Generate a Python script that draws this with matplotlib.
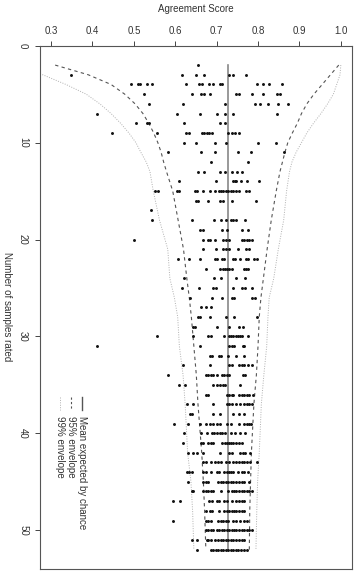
import matplotlib
matplotlib.use("Agg")
import matplotlib.pyplot as plt
from matplotlib.lines import Line2D

plt.rcParams['font.family'] = ['Liberation Sans', 'DejaVu Sans']

# ---- data ----
samples_rated = list(range(2, 53))
agreement_scores = [
    [0.656],
    [0.348, 0.617, 0.649, 0.670, 0.731, 0.739, 0.770],
    [0.493, 0.509, 0.515, 0.531, 0.545, 0.625, 0.657, 0.664, 0.682, 0.692, 0.707, 0.712, 0.798, 0.811, 0.826, 0.859],
    [0.525, 0.641, 0.662, 0.670, 0.684, 0.748, 0.755, 0.785, 0.811, 0.847, 0.853],
    [0.537, 0.618, 0.720, 0.793, 0.805, 0.823, 0.849, 0.872],
    [0.410, 0.604, 0.661, 0.700, 0.720, 0.740, 0.845],
    [0.505, 0.531, 0.537, 0.622, 0.708, 0.720],
    [0.447, 0.555, 0.625, 0.634, 0.664, 0.670, 0.676, 0.682, 0.690, 0.727, 0.736, 0.744, 0.754],
    [0.621, 0.649, 0.696, 0.722, 0.801, 0.843],
    [0.583, 0.662, 0.696, 0.751, 0.782, 0.862],
    [0.686, 0.777],
    [0.656, 0.670, 0.708, 0.720, 0.736, 0.750, 0.762],
    [0.608, 0.699, 0.739, 0.744, 0.748, 0.758, 0.773, 0.803],
    [0.551, 0.559, 0.604, 0.609, 0.648, 0.652, 0.666, 0.684, 0.696, 0.706, 0.711, 0.716, 0.722, 0.728, 0.734, 0.740, 0.748, 0.754, 0.770, 0.778],
    [0.649, 0.656, 0.678, 0.708, 0.716, 0.736, 0.795],
    [0.541],
    [0.545, 0.641, 0.694, 0.711, 0.722, 0.735, 0.740, 0.746, 0.769],
    [0.660, 0.666, 0.714, 0.724, 0.761, 0.777],
    [0.500, 0.666, 0.680, 0.684, 0.696, 0.715, 0.722, 0.730, 0.761, 0.766, 0.773, 0.779, 0.786],
    [0.666, 0.698, 0.716, 0.722, 0.730, 0.752, 0.770, 0.778],
    [0.606, 0.633, 0.660, 0.696, 0.700, 0.712, 0.719, 0.739, 0.744, 0.757, 0.770, 0.775, 0.791, 0.797],
    [0.674, 0.708, 0.715, 0.720, 0.726, 0.731, 0.736, 0.765, 0.770, 0.777],
    [0.622, 0.694, 0.711, 0.747, 0.769],
    [0.617, 0.657, 0.692, 0.698, 0.740, 0.762, 0.769, 0.785],
    [0.635, 0.690, 0.714, 0.736, 0.742, 0.785, 0.793],
    [0.662, 0.674, 0.686],
    [0.655, 0.661, 0.683, 0.722, 0.741, 0.797],
    [0.642, 0.648, 0.700, 0.729, 0.754, 0.764],
    [0.557, 0.644, 0.680, 0.686, 0.719, 0.730, 0.735, 0.740, 0.746, 0.751, 0.757, 0.762, 0.777],
    [0.410, 0.660, 0.730, 0.736, 0.742, 0.763, 0.767],
    [0.684, 0.690, 0.706, 0.711, 0.728, 0.748, 0.766],
    [0.618, 0.684, 0.731, 0.738, 0.755, 0.761, 0.766, 0.777, 0.786],
    [0.583, 0.674, 0.680, 0.686, 0.692, 0.700, 0.714, 0.719, 0.724, 0.730, 0.763, 0.769],
    [0.610, 0.624, 0.692, 0.700, 0.708, 0.715, 0.720, 0.757],
    [0.674, 0.678, 0.724, 0.730, 0.736, 0.740, 0.754, 0.761, 0.766, 0.773, 0.778, 0.787],
    [0.629, 0.644, 0.692, 0.724, 0.730, 0.736, 0.748, 0.757, 0.765, 0.773, 0.779, 0.785],
    [0.636, 0.640, 0.692, 0.708, 0.740, 0.754, 0.766],
    [0.598, 0.632, 0.660, 0.674, 0.684, 0.692, 0.700, 0.708, 0.724, 0.735, 0.754, 0.765, 0.773, 0.779, 0.783],
    [0.622, 0.662, 0.676, 0.688, 0.694, 0.700, 0.707, 0.714, 0.720, 0.735, 0.744, 0.757, 0.769],
    [0.620, 0.662, 0.668, 0.680, 0.686, 0.692, 0.714, 0.720, 0.724, 0.730, 0.735, 0.740, 0.748, 0.755, 0.761],
    [0.632, 0.642, 0.652, 0.666, 0.708, 0.730, 0.738, 0.757, 0.763, 0.769, 0.781],
    [0.666, 0.674, 0.686, 0.696, 0.704, 0.711, 0.722, 0.730, 0.739, 0.748, 0.755, 0.761, 0.766, 0.773, 0.781, 0.797],
    [0.628, 0.633, 0.640, 0.668, 0.674, 0.686, 0.700, 0.706, 0.719, 0.724, 0.730, 0.735, 0.740, 0.751, 0.761, 0.766, 0.777],
    [0.632, 0.668, 0.674, 0.680, 0.704, 0.710, 0.716, 0.722, 0.728, 0.734, 0.740, 0.746, 0.754, 0.761, 0.766, 0.778],
    [0.640, 0.644, 0.668, 0.674, 0.680, 0.686, 0.692, 0.710, 0.728, 0.736, 0.742, 0.748, 0.754, 0.761, 0.766, 0.773, 0.779, 0.785],
    [0.595, 0.612, 0.682, 0.688, 0.700, 0.706, 0.719, 0.724, 0.736, 0.748, 0.754, 0.761, 0.766],
    [0.674, 0.684, 0.690, 0.706, 0.719, 0.724, 0.730, 0.736, 0.742, 0.748, 0.754, 0.761, 0.766],
    [0.595, 0.674, 0.680, 0.686, 0.704, 0.711, 0.716, 0.722, 0.728, 0.740, 0.748, 0.757, 0.766, 0.773],
    [0.674, 0.680, 0.686, 0.692, 0.700, 0.706, 0.712, 0.719, 0.724, 0.730, 0.736, 0.742, 0.748, 0.754, 0.761, 0.766, 0.773, 0.779, 0.785],
    [0.640, 0.652, 0.676, 0.680, 0.686, 0.696, 0.704, 0.711, 0.716, 0.722, 0.728, 0.734, 0.740, 0.746, 0.754, 0.761, 0.766],
    [0.652, 0.686, 0.692, 0.698, 0.704, 0.710, 0.716, 0.722, 0.728, 0.734, 0.740, 0.746, 0.752, 0.759, 0.766, 0.773],
]

mean_expected = 0.728
mean_n = [2, 52]

env_n = [2, 3, 4, 5, 6, 7, 8, 9, 10, 11, 12, 13, 15, 18, 21, 24, 26, 28, 31, 34, 37, 42, 45, 48, 52]
env95_lower = [0.310, 0.390, 0.445, 0.478, 0.503, 0.522, 0.536, 0.548, 0.558, 0.566, 0.572, 0.579, 0.594,
               0.607, 0.620, 0.628, 0.634, 0.639, 0.645, 0.651, 0.655, 0.664, 0.668, 0.671, 0.674]
env95_upper = [0.995, 0.975, 0.955, 0.935, 0.918, 0.905, 0.895, 0.883, 0.872, 0.865, 0.859, 0.853, 0.844,
               0.832, 0.822, 0.813, 0.807, 0.803, 0.800, 0.796, 0.790, 0.784, 0.782, 0.780, 0.779]
env99_lower = [0.200, 0.280, 0.336, 0.385, 0.418, 0.445, 0.468, 0.488, 0.505, 0.517, 0.530, 0.539, 0.547,
               0.562, 0.582, 0.587, 0.598, 0.606, 0.610, 0.619, 0.624, 0.630, 0.638, 0.642, 0.645]
env99_upper = [1.000, 0.998, 0.990, 0.982, 0.968, 0.952, 0.934, 0.918, 0.905, 0.892, 0.882, 0.876, 0.869,
               0.862, 0.849, 0.838, 0.827, 0.824, 0.821, 0.814, 0.808, 0.803, 0.799, 0.797, 0.795]

x_ticks = [0.3, 0.4, 0.5, 0.6, 0.7, 0.8, 0.9, 1.0]
y_ticks = [0, 10, 20, 30, 40, 50]
legend_labels = ["Mean expected by chance", "95% envelope", "99% envelope"]

# ---- figure ----
W, H = 361, 572
fig = plt.figure(figsize=(W / 100, H / 100), dpi=100)
ax = fig.add_axes([40 / W, 1 - 569 / H, 312 / W, (569 - 45.7) / H])

xs, ys = [], []
for n, row in zip(samples_rated, agreement_scores):
    for v in row:
        xs.append(v)
        ys.append(n)
ax.scatter(xs, ys, s=4.5, color='#111111', linewidths=0, zorder=3)

ax.plot([mean_expected, mean_expected], mean_n, color='#888888', lw=1.2, zorder=2)
ax.plot(env95_lower, env_n, color='#555555', lw=0.8, ls=(0, (3, 3)))
ax.plot(env95_upper, env_n, color='#555555', lw=0.8, ls=(0, (3, 3)))
ax.plot(env99_lower, env_n, color='#b0b0b0', lw=0.7, ls=(0, (1, 1.5)))
ax.plot(env99_upper, env_n, color='#b0b0b0', lw=0.7, ls=(0, (1, 1.5)))

ax.set_xlim(0.2734, 1.027)
ax.set_ylim(54.0, 0)
ax.xaxis.tick_top()
ax.set_xticks(x_ticks)
ax.set_xticklabels([f"{t:.1f}" for t in x_ticks])
ax.set_yticks(y_ticks)
ax.set_yticklabels([str(t) for t in y_ticks], rotation=-90, va='center')
ax.tick_params(axis='both', labelsize=7, length=3.6, width=0.7, color='#444444', labelcolor='#333333')
ax.tick_params(axis='x', pad=3.5)
ax.tick_params(axis='y', pad=5)
for sp in ax.spines.values():
    sp.set_color('#555555')
    sp.set_linewidth(0.8)

fig.text(196 / W, 1 - 9 / H, "Agreement Score", ha='center', va='center', fontsize=7, color='#333333')
fig.text(7 / W, 1 - 307 / H, "Number of samples rated", ha='center', va='center',
         rotation=-90, fontsize=7, color='#333333')

# legend (rotated, drawn manually)
leg_x = [82, 71, 60]
styles = [dict(color='#555555', lw=1.0, ls='-'),
          dict(color='#555555', lw=0.8, ls=(0, (2, 2))),
          dict(color='#b0b0b0', lw=0.7, ls=(0, (1, 1.5)))]
for xpx, lab, st in zip(leg_x, legend_labels, styles):
    fig.add_artist(Line2D([xpx / W, xpx / W], [1 - 397 / H, 1 - 410 / H],
                          transform=fig.transFigure, **st))
    fig.text(xpx / W, 1 - 416 / H, lab, ha='center', va='top', rotation=-90,
             fontsize=7, color='#333333')

fig.savefig("out.png", dpi=100)
